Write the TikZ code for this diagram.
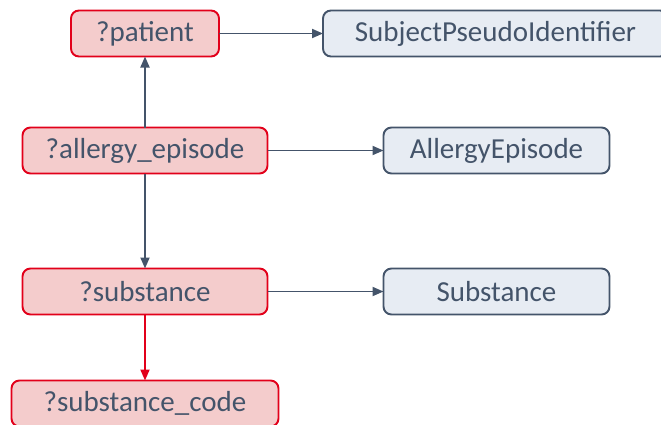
\documentclass[tikz,border=0pt]{standalone}
\usepackage{fontspec}
\setmainfont{Carlito}
\usepackage{tikz}
\usetikzlibrary{arrows.meta, positioning}
\definecolor{slategrey}{RGB}{68, 84, 106}
\definecolor{varred}{RGB}{226, 0, 26}
\definecolor{varpink}{RGB}{244, 204, 204}
\definecolor{classblue}{RGB}{231, 236, 243}

\begin{document}
\begin{tikzpicture}[every node/.style={font=\fontsize{16.5}{19}\selectfont, text=slategrey}, align=center]
  % Styles
  \tikzstyle{var} = [rectangle, rounded corners=0.16cm, draw=varred, line width=1.1pt, fill=varpink, minimum height=0.92cm, outer sep=0pt]
  \tikzstyle{cls} = [rectangle, rounded corners=0.16cm, draw=slategrey, line width=1.1pt, fill=classblue, minimum height=0.92cm, outer sep=0pt]
  \tikzstyle{arrow} = [line width=1.1pt, -{Triangle[length=0.22cm, width=0.18cm]}, slategrey]

  \useasboundingbox (0,0) rectangle (13.22,-8.48);

  % Variables
  \node (patient) [var, minimum width=2.96cm] at (2.9,-0.67) {?patient};
  \node (episode) [var, minimum width=4.9cm, below=1.42cm of patient] {?allergy\_episode};
  \node (substance) [var, minimum width=4.9cm, below=1.9cm of episode] {?substance};
  \node (code) [var, minimum width=5.34cm, below=1.32cm of substance] {?substance\_code};

  % Classes
  \node (subject) [cls, minimum width=6.9cm, right=2.08cm of patient] {SubjectPseudoIdentifier};
  \node (episodecls) [cls, minimum width=4.52cm, right=2.32cm of episode] {AllergyEpisode};
  \node (substancecls) [cls, minimum width=4.52cm, right=2.32cm of substance] {Substance};

  % Connections
  \draw [arrow] (episode) -- (patient);
  \draw [arrow] (patient) -- (subject);
  \draw [arrow] (episode) -- (episodecls);
  \draw [arrow] (episode) -- (substance);
  \draw [arrow] (substance) -- (substancecls);
  \draw [arrow, varred] (substance) -- (code);
\end{tikzpicture}
\end{document}
